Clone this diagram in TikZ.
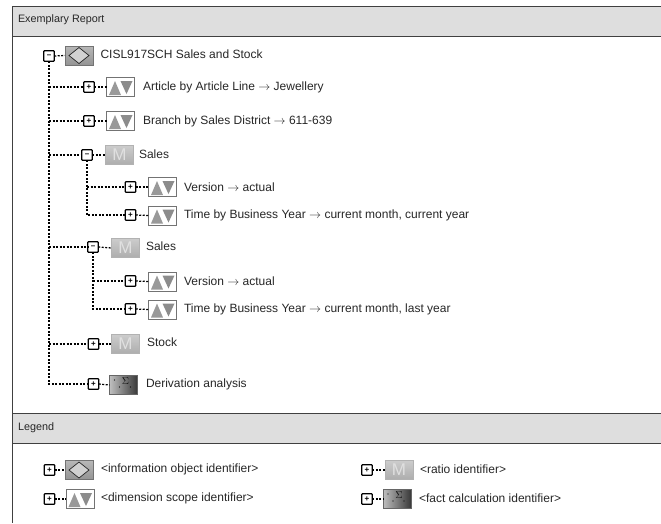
\documentclass[tikz,border=0pt]{standalone}
\usepackage{fontspec}
\setmainfont{Liberation Sans}
\usepackage{xcolor}
\usetikzlibrary{positioning,calc,shapes.geometric}
\definecolor{bandgray}{HTML}{DEDEDE}
\definecolor{framegray}{HTML}{404040}

\begin{document}
\begin{tikzpicture}[x=1pt,y=-1pt,
  every node/.style={inner sep=0pt,outer sep=0pt},
  rowtext/.style={anchor=west,font=\fontsize{12}{14}\selectfont,text=black!85},
  roottext/.style={anchor=west,font=\fontsize{12}{14}\selectfont,text=black!85},
  legtext/.style={anchor=west,font=\fontsize{12}{13}\selectfont,text=black!85},
  bandtext/.style={anchor=west,font=\fontsize{10.8}{13}\selectfont,text=black!85},
  togglebox/.style={draw=black,line width=1.2pt,fill=white,rounded corners=.8pt,minimum size=10.5pt,font=\fontsize{8}{8}\bfseries\selectfont},
  treeline/.style={line width=1.25pt,dash pattern=on 2pt off 1.5pt},
  infoicon/.style={minimum width=28pt,minimum height=19pt,draw=black!55,line width=.6pt,top color=black!28,bottom color=black!42,
    path picture={\draw[black!85,fill=black!18,line width=.7pt] ($(path picture bounding box.west)+(4,0)$) -- ($(path picture bounding box.north)+(0,1.5)$) -- ($(path picture bounding box.east)+(-4,0)$) -- ($(path picture bounding box.south)+(0,-1.5)$) -- cycle;}},
  dimicon/.style={minimum width=28pt,minimum height=19pt,draw=black!55,line width=.6pt,fill=white,
    path picture={\fill[black!40] ($(path picture bounding box.center)+(-11.5,8)$) -- ($(path picture bounding box.center)+(-5.5,-6)$) -- ($(path picture bounding box.center)+(0.5,8)$) -- cycle;
      \fill[black!45] ($(path picture bounding box.center)+(0,-6)$) -- ($(path picture bounding box.center)+(12,-6)$) -- ($(path picture bounding box.center)+(6,7)$) -- cycle;}},
  ratioicon/.style={minimum width=28pt,minimum height=19pt,draw=black!30,line width=.6pt,top color=black!20,bottom color=black!32,text=black!12,font=\fontsize{17}{17}\selectfont},
  calcicon/.style={minimum width=28pt,minimum height=19pt,draw=black!60,line width=.6pt,left color=black!25,right color=black!78,text=black!95,font=\fontsize{8}{8}\selectfont,
    path picture={\fill[black] ($(path picture bounding box.center)+(-9,-5)$) circle (.6);
      \fill[black] ($(path picture bounding box.center)+(-4,2)$) circle (.6);
      \fill[black] ($(path picture bounding box.center)+(7,2)$) circle (.6);
      \node[font=\fontsize{10}{10}\selectfont] at ($(path picture bounding box.center)+(2,-3.5)$) {$\Sigma$};}},
  ]
  \useasboundingbox (0,0) rectangle (661,523);

  % frame and bands
  \fill[bandgray] (12,6) rectangle (661,36);
  \fill[bandgray] (12,413) rectangle (661,443);
  \draw[framegray,line width=1pt] (661,6) -- (12,6) -- (12,523);
  \draw[framegray,line width=1pt] (12,36) -- (661,36);
  \draw[framegray,line width=1pt] (12,413) -- (661,413);
  \draw[framegray,line width=1pt] (12,443) -- (661,443);
  \node[bandtext] (reporttitle) at (18,20) {Exemplary Report};
  \node[bandtext] (legendtitle) at (18,428) {Legend};

  % toggles
  \node[togglebox] (roottog) at (49,56) {–};
  \node[togglebox] (articletog) at (89,87) {+};
  \node[togglebox] (branchtog) at (89,121) {+};
  \node[togglebox] (salesatog) at (87,155) {–};
  \node[togglebox] (versionatog) at (130.5,187) {+};
  \node[togglebox] (timeatog) at (130.5,215) {+};
  \node[togglebox] (salesbtog) at (93,247) {–};
  \node[togglebox] (versionbtog) at (130.5,281) {+};
  \node[togglebox] (timebtog) at (130.5,309) {+};
  \node[togglebox] (stocktog) at (93.5,344) {+};
  \node[togglebox] (derivtog) at (93.5,384) {+};

  % icons
  \node[infoicon] (rooticon) at (79,55.5) {};
  \node[dimicon] (articleicon) at (120.5,87) {};
  \node[dimicon] (branchicon) at (120.5,121) {};
  \node[ratioicon] (salesaicon) at (119.5,155) {M};
  \node[dimicon] (versionaicon) at (162.5,187) {};
  \node[dimicon] (timeaicon) at (162.5,215.5) {};
  \node[ratioicon] (salesbicon) at (125.5,248) {M};
  \node[dimicon] (versionbicon) at (162.5,281.5) {};
  \node[dimicon] (timebicon) at (162.5,309.5) {};
  \node[ratioicon] (stockicon) at (125.5,344) {M};
  \node[calcicon] (derivicon) at (123.5,385) {};

  % labels
  \node[roottext] (roottext) at (100.5,54.5) {CISL917SCH Sales and Stock};
  \node[rowtext] (articletext) at (143,87) {Article by Article Line $\rightarrow$ Jewellery};
  \node[rowtext] (branchtext) at (143,121) {Branch by Sales District $\rightarrow$ 611-639};
  \node[rowtext] (salesatext) at (139,154.5) {Sales};
  \node[rowtext] (versionatext) at (184,187) {Version $\rightarrow$ actual};
  \node[rowtext] (timeatext) at (184,215) {Time by Business Year $\rightarrow$ current month, current year};
  \node[rowtext] (salesbtext) at (146,246.5) {Sales};
  \node[rowtext] (versionbtext) at (184,281) {Version $\rightarrow$ actual};
  \node[rowtext] (timebtext) at (184,309) {Time by Business Year $\rightarrow$ current month, last year};
  \node[rowtext] (stocktext) at (147,342.5) {Stock};
  \node[rowtext] (derivtext) at (146,384.5) {Derivation analysis};

  % tree lines
  \draw[treeline] (roottog.east) -- (rooticon.west);
  \draw[treeline] (roottog.south) |- (derivtog.west);
  \draw[treeline] (roottog.south |- articletog) -- (articletog.west);
  \draw[treeline] (roottog.south |- branchtog) -- (branchtog.west);
  \draw[treeline] (roottog.south |- salesatog) -- (salesatog.west);
  \draw[treeline] (roottog.south |- salesbtog) -- (salesbtog.west);
  \draw[treeline] (roottog.south |- stocktog) -- (stocktog.west);
  \draw[treeline] (articletog.east) -- (articleicon.west);
  \draw[treeline] (branchtog.east) -- (branchicon.west);
  \draw[treeline] (salesatog.east) -- (salesaicon.west);
  \draw[treeline] (salesatog.south) |- (timeatog.west);
  \draw[treeline] (salesatog.south |- versionatog) -- (versionatog.west);
  \draw[treeline] (versionatog.east) -- (versionaicon.west);
  \draw[treeline] (timeatog.east) -- (timeaicon.west);
  \draw[treeline] (salesbtog.east) -- (salesbicon.west);
  \draw[treeline] (salesbtog.south) |- (timebtog.west);
  \draw[treeline] (salesbtog.south |- versionbtog) -- (versionbtog.west);
  \draw[treeline] (versionbtog.east) -- (versionbicon.west);
  \draw[treeline] (timebtog.east) -- (timebicon.west);
  \draw[treeline] (stocktog.east) -- (stockicon.west);
  \draw[treeline] (derivtog.east) -- (derivicon.west);

  % legend
  \node[togglebox] (leginfotog) at (49.5,470) {+};
  \node[infoicon] (leginfoicon) at (79,470) {};
  \node[legtext] (leginfotext) at (101,469) {<information object identifier>};
  \node[togglebox] (legdimtog) at (49.5,499) {+};
  \node[dimicon] (legdimicon) at (80,499) {};
  \node[legtext] (legdimtext) at (101,498) {<dimension scope identifier>};
  \node[togglebox] (legratiotog) at (367,470) {+};
  \node[ratioicon] (legratioicon) at (399,470) {M};
  \node[legtext] (legratiotext) at (420,469) {<ratio identifier>};
  \node[togglebox] (legcalctog) at (367,499) {+};
  \node[calcicon] (legcalcicon) at (397,499) {};
  \node[legtext] (legcalctext) at (419,498) {<fact calculation identifier>};
  \draw[treeline] (leginfotog.east) -- (leginfoicon.west);
  \draw[treeline] (legdimtog.east) -- (legdimicon.west);
  \draw[treeline] (legratiotog.east) -- (legratioicon.west);
  \draw[treeline] (legcalctog.east) -- (legcalcicon.west);
\end{tikzpicture}
\end{document}
